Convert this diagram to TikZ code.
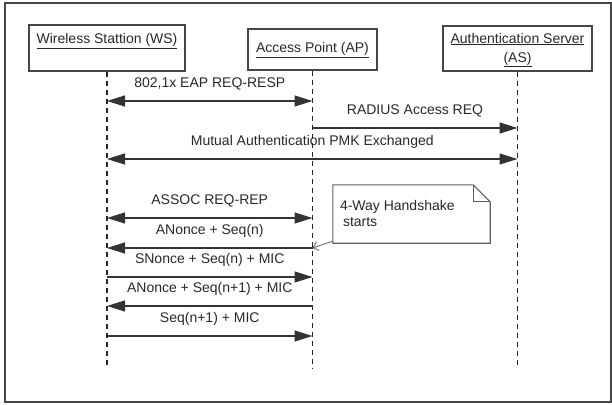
\documentclass[tikz,border=0pt]{standalone}
\usepackage{fontspec}
\setmainfont{Liberation Sans}
\usepackage{tikz}
\usetikzlibrary{calc,arrows.meta}

\definecolor{inkgray}{RGB}{40,40,40}
\definecolor{framegray}{RGB}{70,70,70}
\definecolor{notegray}{RGB}{95,95,95}

\begin{document}
\begin{tikzpicture}[x=1pt,y=-1pt,
    font=\fontsize{14}{16}\selectfont,
    actor/.style={draw=framegray, line width=1.3pt, fill=white, inner sep=0pt},
    actorname/.style={text=inkgray, inner sep=0pt, align=center, font=\fontsize{14}{19}\selectfont},
    lifeline/.style={draw=black!85, line width=1.2pt, dash pattern=on 5pt off 4pt},
    msg/.style={draw=black!80, line width=1.2pt},
    tip/.tip={Triangle[length=18pt,width=11pt]},
    msglabel/.style={text=inkgray, inner sep=0pt, text height=10pt, text depth=3pt, yshift=17pt},
    notedraw/.style={draw=notegray, line width=1.1pt},
    noteptr/.style={draw=notegray, line width=0.8pt, -{Straight Barb[length=5pt,width=9pt]}}]
  \useasboundingbox (0,0) rectangle (612,404);
  \draw[framegray, line width=1.4pt] (5,3) rectangle (611,402);

  % actors
  \node[actor, minimum width=156, minimum height=46] (ws) at (107,48) {};
  \node[actor, minimum width=129, minimum height=41] (ap) at (312.5,49.5) {};
  \node[actor, minimum width=149, minimum height=45] (as) at (517.5,48.5) {};
  \node[actorname] (wsname) at (107,41) {\underline{Wireless Stattion (WS)}};
  \node[actorname] (apname) at (312.5,50) {\underline{Access Point (AP)}};
  \node[actorname] (asname) at (517.5,50) {\underline{Authentication Server}\\\underline{(AS)}};

  % lifelines
  \coordinate (bottom) at (0,368);
  \draw[lifeline] (ws.south) -- (ws.south |- bottom);
  \draw[lifeline] (ap.south) -- (ap.south |- bottom);
  \draw[lifeline] (as.south) -- (as.south |- bottom);

  % message levels
  \coordinate (m1) at (0,101);
  \coordinate (m2) at (0,128);
  \coordinate (m3) at (0,159);
  \coordinate (m4) at (0,218);
  \coordinate (m5) at (0,248);
  \coordinate (m6) at (0,277);
  \coordinate (m7) at (0,306);
  \coordinate (m8) at (0,336);

  \draw[msg, {tip}-{tip}] (ws.south |- m1) -- node[msglabel] (l1) {802,1x EAP REQ-RESP} (ap.south |- m1);
  \draw[msg, -{tip}] (ap.south |- m2) -- node[msglabel] (l2) {RADIUS Access REQ} (as.south |- m2);
  \draw[msg, {tip}-{tip}] (ws.south |- m3) -- node[msglabel] (l3) {Mutual Authentication PMK Exchanged} (as.south |- m3);
  \draw[msg, {tip}-{tip}] (ws.south |- m4) -- node[msglabel] (l4) {ASSOC REQ-REP} (ap.south |- m4);
  \draw[msg, -{tip}] (ap.south |- m5) -- node[msglabel] (l5) {ANonce + Seq(n)} (ws.south |- m5);
  \draw[msg, -{tip}] (ws.south |- m6) -- node[msglabel] (l6) {SNonce + Seq(n) + MIC} (ap.south |- m6);
  \draw[msg, -{tip}] (ap.south |- m7) -- node[msglabel] (l7) {ANonce + Seq(n+1) + MIC} (ws.south |- m7);
  \draw[msg, -{tip}] (ws.south |- m8) -- node[msglabel] (l8) {Seq(n+1) + MIC} (ap.south |- m8);

  % note
  \node[minimum width=157, minimum height=58, inner sep=0pt] (note) at (411.5,214) {};
  \draw[notedraw, fill=white] (note.north west) -- ([xshift=-17pt]note.north east)
    -- ([yshift=-17pt]note.north east) -- (note.south east) -- (note.south west) -- cycle;
  \draw[notedraw] ([xshift=-17pt]note.north east) |- ([yshift=-17pt]note.north east);
  \node[anchor=north west, align=left, inner sep=0pt, text=inkgray] (notetext)
    at ([xshift=7pt,yshift=-15pt]note.north west) {4-Way Handshake\\\hspace{3pt}starts};
  \draw[noteptr] ([yshift=2pt]note.south west) -- (ap.south |- m5);
\end{tikzpicture}
\end{document}
